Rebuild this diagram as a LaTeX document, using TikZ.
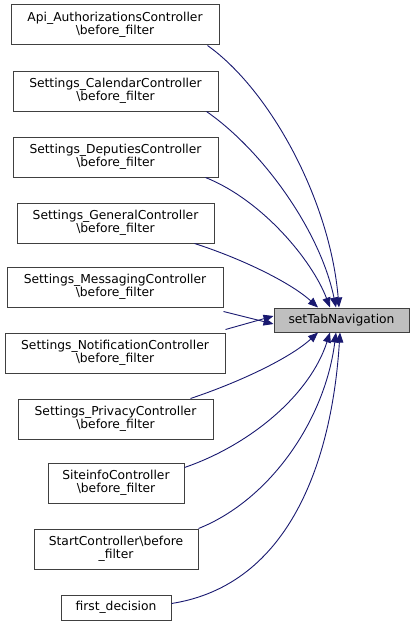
\documentclass[tikz,border=0pt]{standalone}
\usepackage{fontspec}
\setmainfont{DejaVu Sans}
\usetikzlibrary{arrows.meta}
\definecolor{edgec}{HTML}{191970}
\definecolor{boxc}{HTML}{404040}
\definecolor{targetfill}{HTML}{BFBFBF}
\tikzset{
  box/.style={draw=boxc, line width=1pt, fill=white, inner sep=0pt, align=center,
    font=\fontsize{12.3}{13.5}\selectfont, text=black},
  target/.style={box, fill=targetfill},
  edge/.style={draw=edgec, line width=0.9pt, -{Triangle[length=10pt,width=8pt]}},
}
\begin{document}
\begin{tikzpicture}[x=1pt,y=-1pt]
\useasboundingbox (0,0) rectangle (415,626);
\node[box, minimum width=208pt, minimum height=40pt] (n1) at (115,25) {Api\_AuthorizationsController\\\textbackslash before\_filter};
\node[box, minimum width=205pt, minimum height=40pt] (n2) at (115.5,91) {Settings\_CalendarController\\\textbackslash before\_filter};
\node[box, minimum width=205pt, minimum height=40pt] (n3) at (115.5,157) {Settings\_DeputiesController\\\textbackslash before\_filter};
\node[box, minimum width=197pt, minimum height=40pt] (n4) at (115.5,223) {Settings\_GeneralController\\\textbackslash before\_filter};
\node[box, minimum width=216pt, minimum height=40pt] (n5) at (115,287) {Settings\_MessagingController\\\textbackslash before\_filter};
\node[box, minimum width=220pt, minimum height=40pt] (n6) at (115,353) {Settings\_NotificationController\\\textbackslash before\_filter};
\node[box, minimum width=195pt, minimum height=40pt] (n7) at (115.5,419) {Settings\_PrivacyController\\\textbackslash before\_filter};
\node[box, minimum width=136pt, minimum height=40pt] (n8) at (116,483) {SiteinfoController\\\textbackslash before\_filter};
\node[box, minimum width=164pt, minimum height=40pt] (n9) at (116,549) {StartController\textbackslash before\\\_filter};
\node[box, minimum width=110pt, minimum height=25pt] (n10) at (116,607.5) {first\_decision};
\node[target, minimum width=135pt, minimum height=24pt] (t) at (341.5,320) {setTabNavigation};

\draw[edge] ([xshift=-12pt]n1.south east) .. controls (270,90) and (330,200) .. ([xshift=-2.5pt]t.north);
\draw[edge] ([xshift=-12pt]n2.south east) .. controls (262,150) and (320,230) .. ([xshift=-5.5pt]t.north);
\draw[edge] ([xshift=-13pt]n3.south east) .. controls (262,200) and (312,260) .. ([xshift=-11.5pt]t.north);
\draw[edge] ([xshift=-20pt]n4.south east) .. controls (240,258) and (290,282) .. ([xshift=-23.5pt]t.north);
\draw[edge] ([yshift=-4pt]n5.south east) -- ([yshift=-4pt]t.west);
\draw[edge] ([yshift=3pt]n6.north east) -- ([yshift=4pt]t.west);
\draw[edge] ([xshift=-23pt]n7.north east) .. controls (240,382) and (290,358) .. ([xshift=-23.5pt]t.south);
\draw[edge] ([yshift=-5pt]n8.north east) .. controls (250,445) and (310,395) .. ([xshift=-11.5pt]t.south);
\draw[edge] (n9.north east) .. controls (270,500) and (325,420) .. ([xshift=-5.5pt]t.south);
\draw[edge] ([yshift=-9pt]n10.north east) .. controls (290,585) and (332,460) .. ([xshift=-1.5pt]t.south);
\end{tikzpicture}
\end{document}
